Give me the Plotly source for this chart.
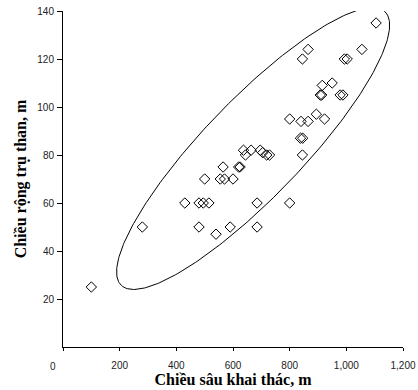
import numpy as np
import plotly.graph_objects as go

# Data
depth = [100, 280, 430, 480, 495, 515, 685, 800,
         480, 540, 590, 685,
         500, 555, 570, 600,
         565, 620, 625,
         637, 664, 644, 696, 705, 719, 729,
         800, 840, 865, 894, 923,
         838, 846, 845,
         908, 913, 978, 988, 915, 950,
         845, 865, 993, 1003, 1055, 1105]
width = [25, 50, 60, 60, 60, 60, 60, 60,
         50, 47, 50, 50,
         70, 70, 70, 70,
         75, 75, 75,
         82, 82, 80, 82, 81, 80, 80,
         95, 94, 94, 97, 95,
         87, 87, 80,
         105, 105, 105, 105, 109, 110,
         120, 124, 120, 120, 124, 135]

x_ticks = [0, 200, 400, 600, 800, 1000, 1200]
x_ticktext = ["", "200", "400", "600", "800", "1,000", "1,200"]
y_ticks = [20, 40, 60, 80, 100, 120, 140]

# Ellipse (enclosing envelope) parameters, in data units
ell_cx, ell_cy = 671, 82.7
ell_ax, ell_bx = 465.5, 124.5   # x components of the two semi-axes
ell_ay, ell_by = 57.0, -14.17   # y components of the two semi-axes

t = np.linspace(0, 2 * np.pi, 300)
ex = ell_cx + ell_ax * np.cos(t) + ell_bx * np.sin(t)
ey = ell_cy + ell_ay * np.cos(t) + ell_by * np.sin(t)

fig = go.Figure()
fig.add_trace(go.Scatter(x=ex, y=ey, mode="lines",
                         line=dict(color="black", width=1), hoverinfo="skip"))
fig.add_trace(go.Scatter(x=depth, y=width, mode="markers",
                         marker=dict(symbol="diamond-open", size=8,
                                     color="black", line=dict(width=1))))

tickfont = dict(family="Liberation Sans, Arial, sans-serif", size=10, color="#222")
titlefont = dict(family="Liberation Serif, Times New Roman, serif", size=16, color="black")

fig.update_layout(
    width=418, height=390,
    margin=dict(l=63, r=15, t=11, b=43),
    paper_bgcolor="white", plot_bgcolor="white",
    showlegend=False,
    xaxis=dict(range=[0, 1200], tickvals=x_ticks, ticktext=x_ticktext,
               automargin=False, ticklabeloverflow="allow",
               showgrid=False, zeroline=False, showline=True,
               linecolor="black", linewidth=1,
               ticks="outside", ticklen=3, tickcolor="black",
               tickfont=tickfont, ticklabelstandoff=6,
               title=dict(text="<b>Chiều sâu khai thác, m</b>", font=titlefont, standoff=3)),
    yaxis=dict(range=[0, 140], tickvals=y_ticks,
               automargin=False, ticklabeloverflow="allow",
               showgrid=False, zeroline=False, showline=True,
               linecolor="black", linewidth=1,
               ticks="outside", ticklen=5, tickcolor="black",
               tickfont=tickfont, ticklabelstandoff=1,
               title=dict(text="<b>Chiều rộng trụ than, m</b>", font=titlefont, standoff=6)),
    annotations=[dict(text="0", x=0, y=0, xref="x", yref="y",
                      xanchor="center", yanchor="top", xshift=-10, yshift=-12,
                      showarrow=False, font=tickfont)],
)

# remove the browser's default 8px body margin so the figure fills the window
fig.write_html("out.html", config={"displayModeBar": False},
               post_script="document.body.style.margin='0';document.body.style.overflow='hidden';")
